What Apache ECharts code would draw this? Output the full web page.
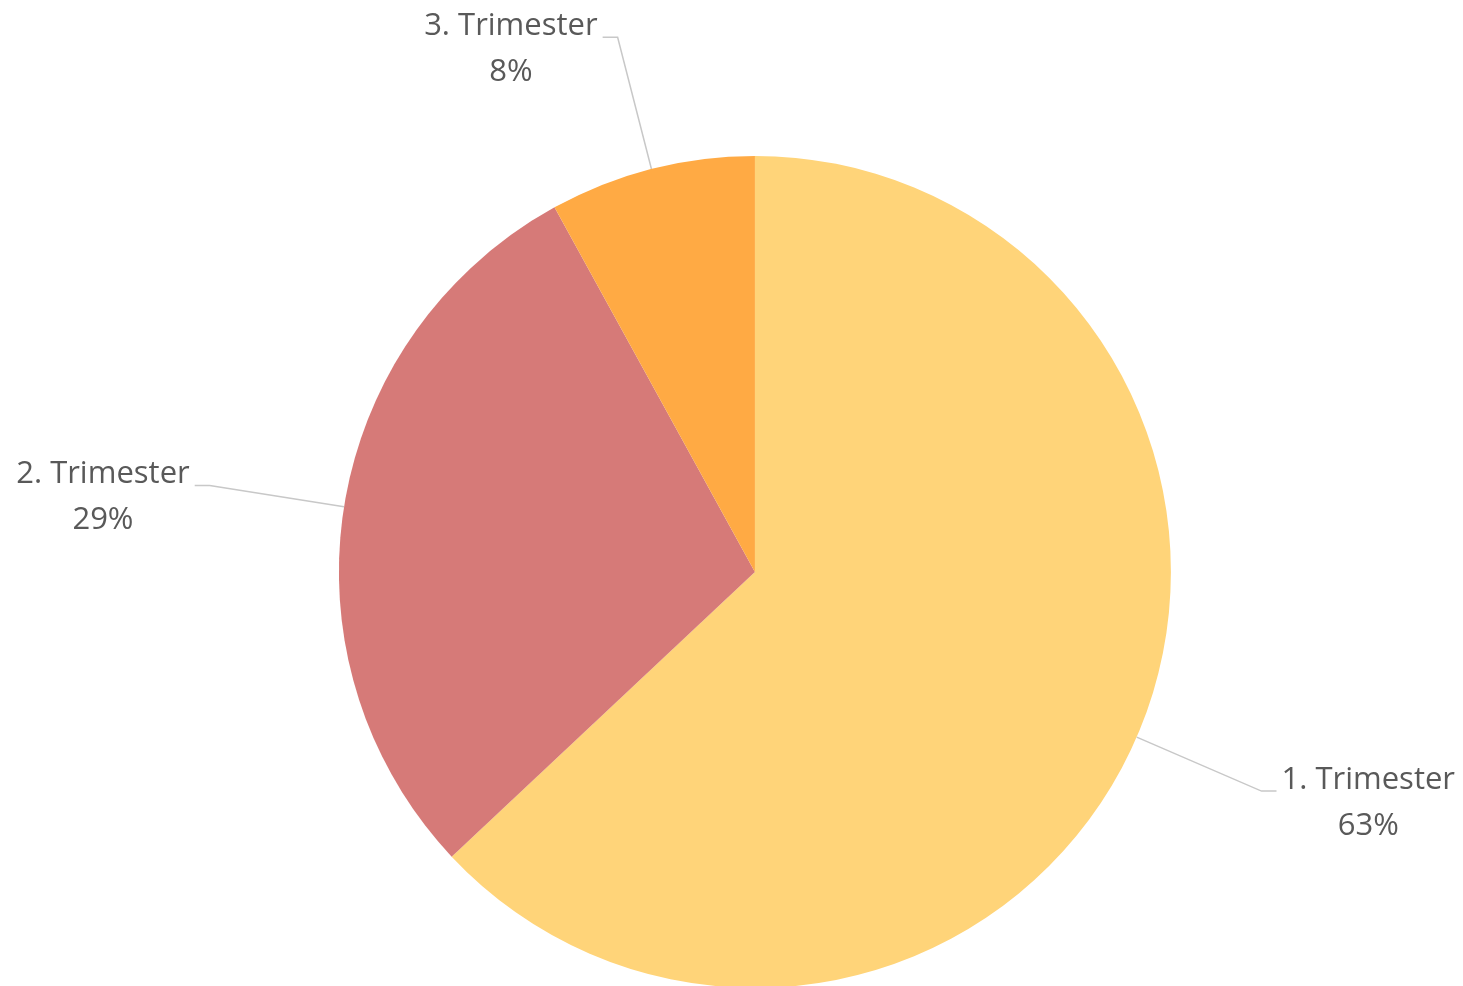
<!DOCTYPE html>
<html>
    <head>
        <meta charset="utf-8">
        <style>
            html, body { margin: 0; padding: 0; background: #ffffff; }
            #chart { width: 1463px; height: 986px; }
        </style>
    </head>
    <body>
        <div id="chart"></div>
        <script type="text/javascript" src="https://cdn.jsdelivr.net/npm/echarts@6/dist/echarts.min.js"></script>
        <script type="text/javascript">

            const names = ['1. Trimester', '2. Trimester', '3. Trimester'];
            const shares = [63, 29, 8];
            const colors = ['#FFD479', '#D67A78', '#FFAA44'];

            let myChart = echarts.init(document.getElementById('chart'));

            let pieData = [];
            for (let i = 0; i < names.length; i++) {
                pieData.push({
                    name: names[i],
                    value: shares[i],
                    itemStyle: { color: colors[i] }
                });
            }

            // two-line labels, both lines centred on each other
            const textStyle = { align: 'center', fontSize: 31, lineHeight: 46, color: '#595959', fontFamily: 'Open Sans' };

            let option = {
                backgroundColor: '#ffffff',
                animation: false,
                series: [{
                    type: 'pie',
                    center: ['51.6%', '58%'],
                    radius: 416,
                    startAngle: 90,
                    clockwise: true,
                    avoidLabelOverlap: false,
                    itemStyle: { borderWidth: 0 },
                    label: {
                        show: true,
                        position: 'outside',
                        color: '#595959',
                        fontFamily: 'Open Sans',
                        fontSize: 31,
                        padding: [24, 0, 0, 0],
                        formatter: function (p) {
                            return '{n|' + p.name + '}\n{v|' + p.value + '%}';
                        },
                        rich: {
                            n: textStyle,
                            v: textStyle
                        }
                    },
                    labelLine: {
                        show: true,
                        length: 136,
                        length2: 15,
                        smooth: false,
                        lineStyle: { color: '#C8C8C8', width: 1.5 }
                    },
                    emphasis: { disabled: true },
                    data: pieData
                }]
            };

            myChart.setOption(option);
        </script>
    </body>
</html>
